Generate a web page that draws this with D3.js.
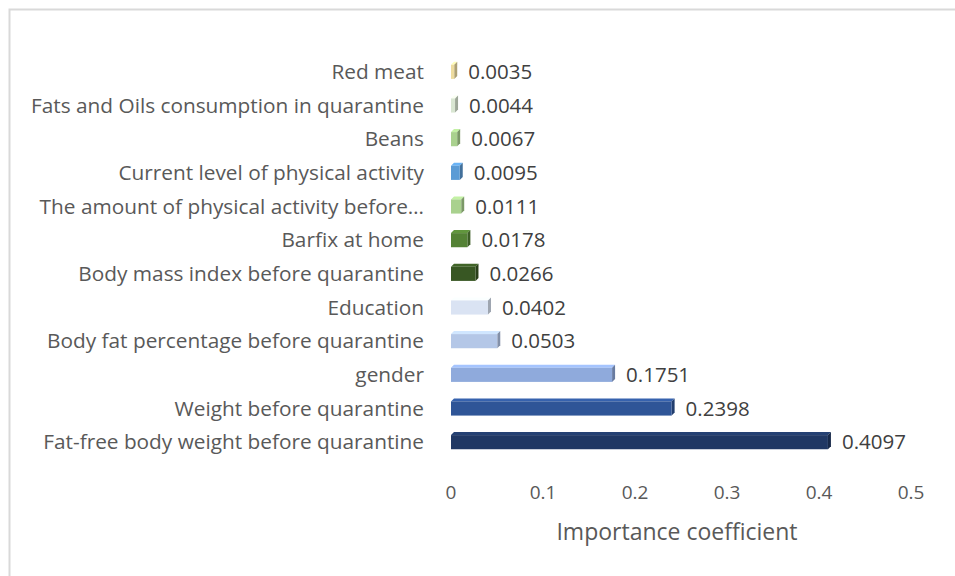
<!DOCTYPE html>
<html>
<head>
<meta charset="utf-8">
<script src="https://cdn.jsdelivr.net/npm/d3@7"></script>
<style>
  html, body { margin: 0; padding: 0; background: #fff; }
  svg { display: block; }
  text { font-family: "Open Sans", "Noto Sans", sans-serif; }
</style>
</head>
<body>
<svg id="chart" width="955" height="576"></svg>
<script>
// Feature importance, listed top to bottom as drawn
const features = [
  "Red meat",
  "Fats and Oils consumption in quarantine",
  "Beans",
  "Current level of physical activity",
  "The amount of physical activity before\u2026",
  "Barfix at home",
  "Body mass index before quarantine",
  "Education",
  "Body fat percentage before quarantine",
  "gender",
  "Weight before quarantine",
  "Fat-free body weight before quarantine"
];
const importance = [0.0035, 0.0044, 0.0067, 0.0095, 0.0111, 0.0178, 0.0266, 0.0402, 0.0503, 0.1751, 0.2398, 0.4097];
const valueLabels = ["0.0035", "0.0044", "0.0067", "0.0095", "0.0111", "0.0178", "0.0266", "0.0402", "0.0503", "0.1751", "0.2398", "0.4097"];
const barColors = ["#eedc9f", "#d9e6d2", "#a9d18e", "#5b9bd5", "#a9d18e", "#548235", "#385723", "#dae3f3", "#b4c7e7", "#8faadc", "#2f5597", "#203864"];
const xTicks = [0, 0.1, 0.2, 0.3, 0.4, 0.5];
const xTickLabels = ["0", "0.1", "0.2", "0.3", "0.4", "0.5"];
const axisTitle = "Importance coefficient";

const svg = d3.select("#chart");

// chart frame
svg.append("rect")
  .attr("x", 9.5).attr("y", 9.5)
  .attr("width", 960).attr("height", 580)
  .attr("fill", "#fff")
  .attr("stroke", "#d9d9d9").attr("stroke-width", 2);

const x = d3.scaleLinear().domain([0, 0.5]).range([451, 911]);
const y = d3.scaleBand().domain(features).range([55, 459]).paddingInner(0.58).paddingOuter(0.29);

const depth = 3;
const g = svg.append("g");

features.forEach((f, i) => {
  const v = importance[i];
  const x0 = x(0), x1 = x(v);
  const y0 = y(f), h = y.bandwidth();
  const c = d3.color(barColors[i]);
  const bar = g.append("g");
  // top face
  bar.append("path")
    .attr("d", `M${x0},${y0} L${x0 + depth},${y0 - depth} L${x1 + depth},${y0 - depth} L${x1},${y0} Z`)
    .attr("fill", c.brighter(0.4).formatHex());
  // right side face
  bar.append("path")
    .attr("d", `M${x1},${y0} L${x1 + depth},${y0 - depth} L${x1 + depth},${y0 + h - depth} L${x1},${y0 + h} Z`)
    .attr("fill", c.darker(0.9).formatHex());
  // front face
  bar.append("rect")
    .attr("x", x0).attr("y", y0)
    .attr("width", Math.max(0, x1 - x0)).attr("height", h)
    .attr("fill", c.formatHex());

  // value label
  g.append("text")
    .attr("x", x1 + depth + 11)
    .attr("y", y0 + h / 2)
    .attr("dy", "0.35em")
    .attr("font-size", 20.5)
    .attr("fill", "#404040")
    .text(valueLabels[i]);
});

// category labels
const yAxis = svg.append("g");
features.forEach(f => {
  yAxis.append("text")
    .attr("x", 424)
    .attr("y", y(f) + y.bandwidth() / 2)
    .attr("dy", "0.35em")
    .attr("text-anchor", "end")
    .attr("font-size", 20.8)
    .attr("fill", "#595959")
    .text(f);
});

// x tick labels
const xAxis = svg.append("g");
xTicks.forEach((t, i) => {
  xAxis.append("text")
    .attr("x", x(t))
    .attr("y", 492)
    .attr("dy", "0.35em")
    .attr("text-anchor", "middle")
    .attr("font-size", 19)
    .attr("fill", "#595959")
    .text(xTickLabels[i]);
});

// axis title
svg.append("text")
  .attr("x", 677).attr("y", 532)
  .attr("dy", "0.35em")
  .attr("text-anchor", "middle")
  .attr("font-size", 23)
  .attr("fill", "#595959")
  .text(axisTitle);
</script>
</body>
</html>
